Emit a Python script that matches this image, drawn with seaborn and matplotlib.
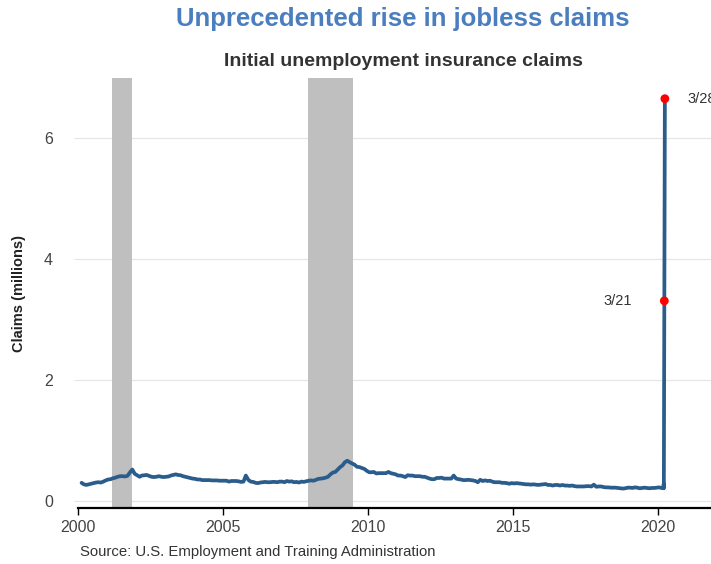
import matplotlib
matplotlib.use("Agg")
import matplotlib.pyplot as plt
import matplotlib.dates as mdates
import seaborn as sns
import pandas as pd

# ---- data (millions of initial claims) ----
monthly_start = "2000-01-15"
monthly_claims = [
    # 2000
    0.300, 0.275, 0.265, 0.275, 0.285, 0.295, 0.305, 0.310, 0.305, 0.320, 0.340, 0.355,
    # 2001
    0.360, 0.375, 0.385, 0.400, 0.410, 0.410, 0.405, 0.415, 0.470, 0.520, 0.450, 0.425,
    # 2002
    0.400, 0.420, 0.425, 0.430, 0.415, 0.400, 0.395, 0.400, 0.410, 0.400, 0.395, 0.400,
    # 2003
    0.405, 0.420, 0.430, 0.440, 0.430, 0.425, 0.410, 0.400, 0.390, 0.380, 0.370, 0.365,
    # 2004
    0.355, 0.355, 0.345, 0.345, 0.345, 0.345, 0.340, 0.340, 0.340, 0.335, 0.335, 0.335,
    # 2005
    0.335, 0.320, 0.330, 0.330, 0.330, 0.325, 0.315, 0.320, 0.420, 0.350, 0.320, 0.315,
    # 2006
    0.300, 0.295, 0.305, 0.310, 0.315, 0.310, 0.310, 0.315, 0.315, 0.310, 0.320, 0.320,
    # 2007
    0.310, 0.330, 0.320, 0.325, 0.310, 0.315, 0.305, 0.320, 0.315, 0.325, 0.335, 0.340,
    # 2008
    0.335, 0.350, 0.365, 0.370, 0.375, 0.385, 0.400, 0.440, 0.470, 0.480, 0.520, 0.560,
    # 2009
    0.590, 0.640, 0.665, 0.640, 0.620, 0.600, 0.565, 0.560, 0.545, 0.530, 0.500, 0.475,
    # 2010
    0.475, 0.480, 0.455, 0.460, 0.460, 0.460, 0.460, 0.480, 0.460, 0.450, 0.440, 0.420,
    # 2011
    0.420, 0.410, 0.395, 0.425, 0.420, 0.420, 0.410, 0.410, 0.410, 0.400, 0.400, 0.385,
    # 2012
    0.370, 0.360, 0.360, 0.380, 0.380, 0.385, 0.370, 0.370, 0.370, 0.370, 0.420, 0.370,
    # 2013
    0.360, 0.355, 0.345, 0.345, 0.350, 0.345, 0.340, 0.330, 0.310, 0.350, 0.330, 0.340,
    # 2014
    0.330, 0.335, 0.320, 0.310, 0.310, 0.310, 0.300, 0.300, 0.295, 0.285, 0.295, 0.290,
    # 2015
    0.295, 0.290, 0.285, 0.280, 0.275, 0.275, 0.270, 0.275, 0.270, 0.265, 0.270, 0.275,
    # 2016
    0.280, 0.265, 0.265, 0.255, 0.265, 0.265, 0.255, 0.265, 0.255, 0.255, 0.250, 0.255,
    # 2017
    0.245, 0.240, 0.240, 0.240, 0.240, 0.245, 0.245, 0.240, 0.270, 0.235, 0.240, 0.240,
    # 2018
    0.230, 0.225, 0.225, 0.220, 0.220, 0.220, 0.215, 0.210, 0.205, 0.210, 0.220, 0.220,
    # 2019
    0.215, 0.225, 0.220, 0.210, 0.215, 0.220, 0.215, 0.210, 0.215, 0.215, 0.220, 0.225,
    # 2020 Jan-Feb
    0.215, 0.210,
]
march_2020_weeks = ["2020-03-07", "2020-03-14", "2020-03-21", "2020-03-28"]
march_2020_claims = [0.211, 0.282, 3.307, 6.648]

highlight_dates = ["2020-03-21", "2020-03-28"]
highlight_values = [3.307, 6.648]
highlight_labels = ["3/21", "3/28"]

recession_starts = ["2001-03-01", "2007-12-01"]
recession_ends = ["2001-11-15", "2009-06-30"]

y_ticks = [0, 2, 4, 6]
x_tick_years = [2000, 2005, 2010, 2015, 2020]

# ---- build frame ----
dates = list(pd.date_range(monthly_start, periods=len(monthly_claims), freq="MS") + pd.Timedelta(days=14))
dates += list(pd.to_datetime(march_2020_weeks))
df = pd.DataFrame({"date": dates, "claims": monthly_claims + march_2020_claims})
hl = pd.DataFrame({"date": pd.to_datetime(highlight_dates), "claims": highlight_values})

# ---- plot ----
sns.set_style("white")
plt.rcParams["font.family"] = ["Liberation Sans", "DejaVu Sans"]

fig = plt.figure(figsize=(7.11, 5.64), dpi=100)
ax = fig.add_axes([78 / 711, 56 / 564, 633 / 711, 430 / 564])

for s, e in zip(recession_starts, recession_ends):
    ax.axvspan(pd.Timestamp(s), pd.Timestamp(e), color="#bfbfbf", lw=0, zorder=1)

for t in y_ticks:
    ax.axhline(t, color="#e6e6e6", lw=0.9, zorder=0)

sns.lineplot(data=df, x="date", y="claims", ax=ax, color="#2b5d8c", lw=2.7, zorder=3)
sns.scatterplot(data=hl, x="date", y="claims", ax=ax, color="#ff0000", s=40,
                edgecolor="none", zorder=4)

ax.annotate(highlight_labels[0], (pd.Timestamp(highlight_dates[0]), highlight_values[0]),
            xytext=(-23, 0), textcoords="offset points", ha="right", va="center",
            fontsize=10.5, color="#333333")
ax.annotate(highlight_labels[1], (pd.Timestamp(highlight_dates[1]), highlight_values[1]),
            xytext=(16, 0), textcoords="offset points", ha="left", va="center",
            fontsize=10.5, color="#333333", annotation_clip=False)

ax.set_xlim(pd.Timestamp("2000-01-01"), pd.Timestamp("2021-10-30"))
ax.set_ylim(-0.116, 6.99)
ax.set_yticks(y_ticks)
ax.set_xticks([pd.Timestamp(f"{y}-01-01") for y in x_tick_years])
ax.xaxis.set_major_formatter(mdates.DateFormatter("%Y"))

for side in ["top", "right", "left"]:
    ax.spines[side].set_visible(False)
ax.spines["bottom"].set_color("black")
ax.spines["bottom"].set_linewidth(1.6)
ax.tick_params(axis="x", bottom=True, length=5, width=1, color="black",
               labelsize=11.5, labelcolor="#444444", pad=4)
ax.tick_params(axis="y", left=True, length=3, width=0.6, color="#dddddd",
               labelsize=11.5, labelcolor="#444444", pad=15)

ax.set_xlabel("")
ax.set_ylabel("Claims (millions)", fontsize=10.5, fontweight="bold", color="#222222")
ax.yaxis.set_label_coords((26 - 78) / 633, 0.5)

fig.text(403 / 711, 1 - 19 / 564, "Unprecedented rise in jobless claims", ha="center", va="center",
         fontsize=18.5, fontweight="bold", color="#4a7ebf")
fig.text(403 / 711, 1 - 61 / 564, "Initial unemployment insurance claims", ha="center", va="center",
         fontsize=14, fontweight="bold", color="#333333")
fig.text(80 / 711, 1 - 552 / 564, "Source: U.S. Employment and Training Administration",
         ha="left", va="center", fontsize=10.7, color="#333333")

fig.savefig("out.png", dpi=100)
